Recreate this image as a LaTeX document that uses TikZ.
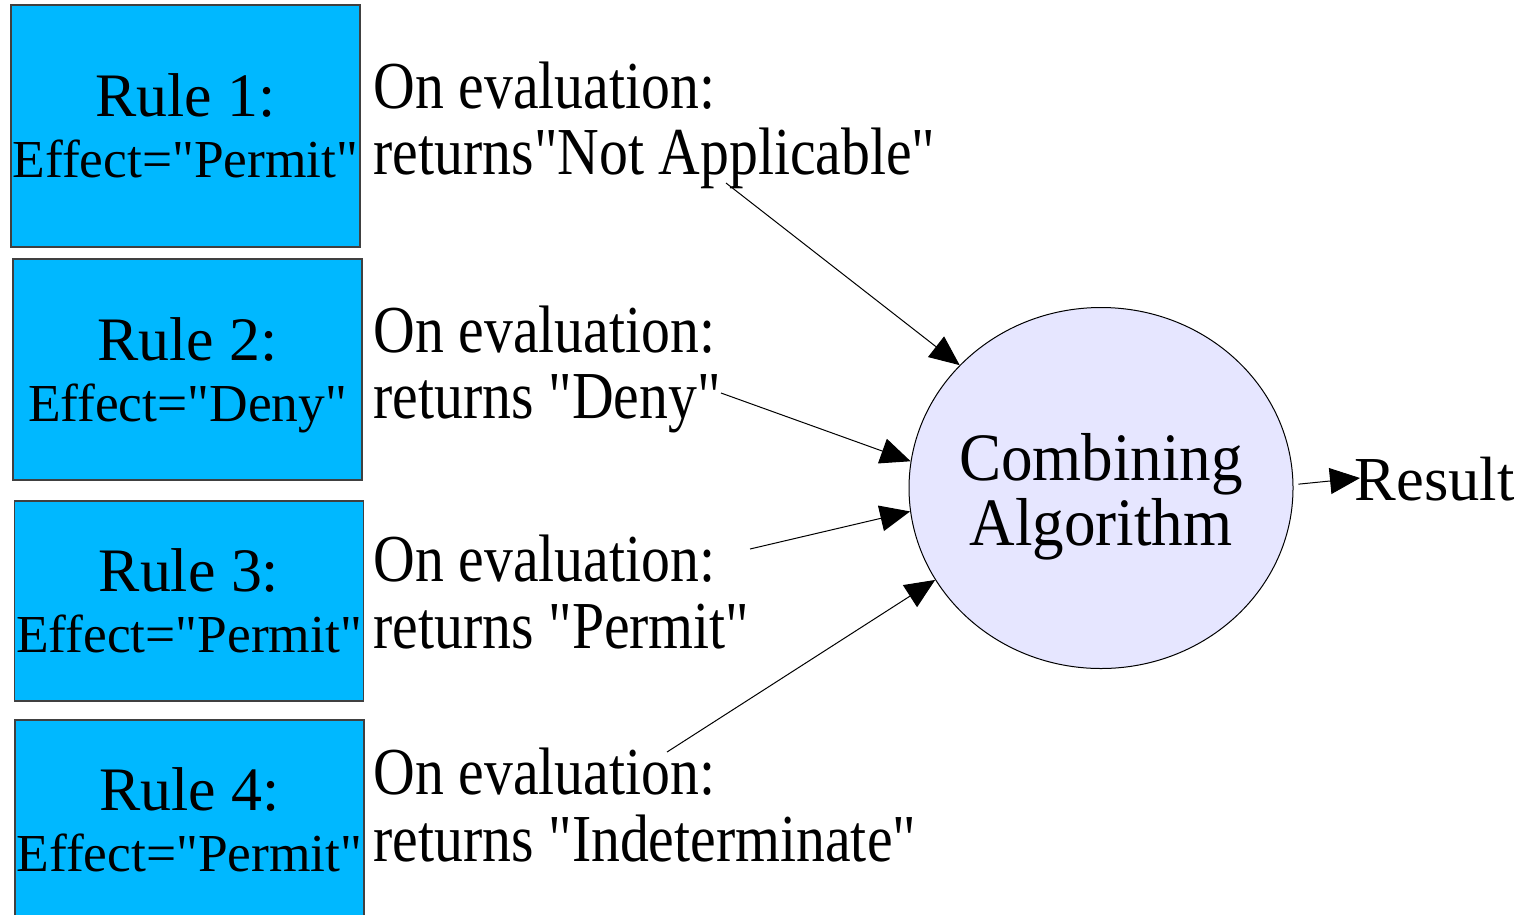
\documentclass[tikz,border=0pt]{standalone}
\usepackage{fontspec}
\setmainfont{Liberation Serif}[Ligatures=TeXOff]
\newfontfamily\labelfont[FakeStretch=0.86]{Liberation Serif}
\newfontfamily\algfont[FakeStretch=0.93]{Liberation Serif}
\usetikzlibrary{arrows.meta,shapes.geometric}
\definecolor{rulefill}{RGB}{0,184,255}
\definecolor{algfill}{RGB}{230,230,255}
\newcommand{\effectsize}{\fontsize{15.2}{17.2}\selectfont}

\begin{document}
\begin{tikzpicture}[
  x=0.1mm, y=-0.1mm,
  >={Triangle[length=3mm,width=2.6mm]},
  rulebox/.style={draw=black!75,line width=0.15mm,fill=rulefill,minimum width=34.9mm,align=center,inner sep=0pt,font=\fontsize{17.6}{17.2}\selectfont},
  evallabel/.style={anchor=west,align=left,inner sep=0pt,font=\labelfont\fontsize{19.1}{18.8}\selectfont},
  flow/.style={->,line width=0.1mm}
]
\clip (0,0) rectangle (1524,914);

\node[rulebox,minimum height=24.2mm] (rule1) at (185.5,126) {Rule 1:\\{\effectsize Effect="Permit"}};
\node[rulebox,minimum height=22.1mm] (rule2) at (187.5,369.5) {Rule 2:\\{\effectsize\smash{Effect="Deny"}}};
\node[rulebox,minimum height=20mm] (rule3) at (189,601) {Rule 3:\\{\effectsize Effect="Permit"}};
\node[rulebox,minimum height=20mm] (rule4) at (189.5,820) {Rule 4:\\{\effectsize Effect="Permit"}};

\node[evallabel] (eval1) at (373,125) {On evaluation:\\returns"Not Applicable"};
\node[evallabel] (eval2) at (373,369) {On evaluation:\\returns "Deny"};
\node[evallabel] (eval3) at (373,592) {On evaluation:\\returns "Permit"};
\node[evallabel] (eval4) at (373,805) {On evaluation:\\returns "Indeterminate"};

\node[ellipse,draw,line width=0.1mm,fill=algfill,minimum width=38.4mm,minimum height=36.1mm,inner sep=0pt] (alg) at (1101,488) {};
\node[align=center,inner sep=0pt,font=\algfont\fontsize{19.3}{18.5}\selectfont] (algtext) at (1101,497) {Combining\\Algorithm};
\node[anchor=base west,inner sep=0pt,font=\fontsize{17.8}{20}\selectfont] (result) at (1354,500) {Result};

\coordinate (from1) at (726,183);
\coordinate (from2) at (721,393);
\coordinate (from3) at (750,549);
\coordinate (from4) at (667,752);

\draw[flow] (from1) -- (alg.139);
\draw[flow] (from2) -- (alg.172);
\draw[flow] (from3) -- (alg.187);
\draw[flow] (from4) -- (alg.209);
\draw[flow,shorten <=0.5mm,shorten >=-0.6mm] (alg.1) -- (result.west);
\end{tikzpicture}
\end{document}
